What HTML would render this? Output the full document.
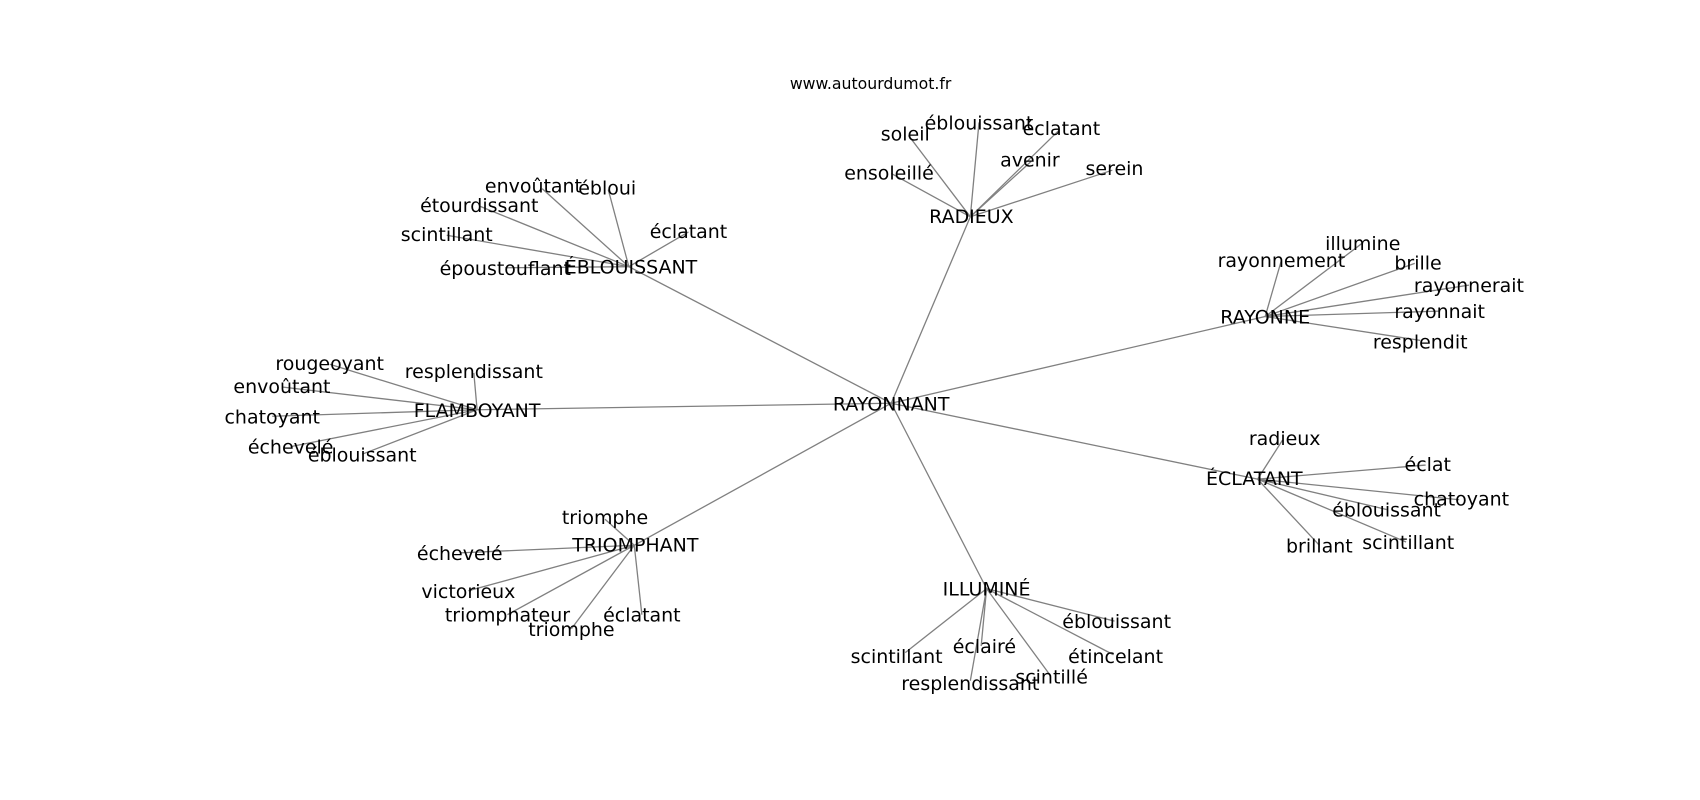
<!DOCTYPE html>
<html><head><meta charset="utf-8"><style>
html,body{margin:0;padding:0;background:#fff;}
svg{display:block;}
text{font-family:"DejaVu Sans","Liberation Sans",sans-serif;font-size:17.5px;fill:#000;text-anchor:middle;dominant-baseline:central;}
line{stroke:#808080;stroke-width:1.2;}
</style></head><body>
<svg width="1700" height="800" viewBox="0 0 1568 738" xmlns="http://www.w3.org/2000/svg">
<g>
<line x1="822" y1="372" x2="895" y2="200"/>
<line x1="822" y1="372" x2="1167" y2="292"/>
<line x1="822" y1="372" x2="1160" y2="442"/>
<line x1="822" y1="372" x2="910" y2="543"/>
<line x1="822" y1="372" x2="585" y2="503"/>
<line x1="822" y1="372" x2="440" y2="378"/>
<line x1="822" y1="372" x2="580" y2="246"/>
<line x1="895" y1="200" x2="838" y2="125"/>
<line x1="895" y1="200" x2="903" y2="113"/>
<line x1="895" y1="200" x2="977" y2="120"/>
<line x1="895" y1="200" x2="951" y2="149"/>
<line x1="895" y1="200" x2="1026" y2="157"/>
<line x1="895" y1="200" x2="822" y2="160"/>
<line x1="1167" y1="292" x2="1182" y2="240"/>
<line x1="1167" y1="292" x2="1257" y2="224"/>
<line x1="1167" y1="292" x2="1305" y2="243"/>
<line x1="1167" y1="292" x2="1355" y2="263"/>
<line x1="1167" y1="292" x2="1328" y2="287"/>
<line x1="1167" y1="292" x2="1310" y2="314"/>
<line x1="1160" y1="442" x2="1183" y2="406"/>
<line x1="1160" y1="442" x2="1315" y2="429"/>
<line x1="1160" y1="442" x2="1346" y2="461"/>
<line x1="1160" y1="442" x2="1279" y2="470"/>
<line x1="1160" y1="442" x2="1297" y2="500"/>
<line x1="1160" y1="442" x2="1217" y2="503"/>
<line x1="910" y1="543" x2="835" y2="602"/>
<line x1="910" y1="543" x2="905" y2="596"/>
<line x1="910" y1="543" x2="895" y2="628"/>
<line x1="910" y1="543" x2="968" y2="622"/>
<line x1="910" y1="543" x2="1027" y2="604"/>
<line x1="910" y1="543" x2="1028" y2="573"/>
<line x1="585" y1="503" x2="558" y2="479"/>
<line x1="585" y1="503" x2="424" y2="510"/>
<line x1="585" y1="503" x2="432" y2="545"/>
<line x1="585" y1="503" x2="468" y2="567"/>
<line x1="585" y1="503" x2="527" y2="580"/>
<line x1="585" y1="503" x2="592" y2="567"/>
<line x1="440" y1="378" x2="304" y2="336"/>
<line x1="440" y1="378" x2="260" y2="357"/>
<line x1="440" y1="378" x2="251" y2="384"/>
<line x1="440" y1="378" x2="268" y2="412"/>
<line x1="440" y1="378" x2="334" y2="419"/>
<line x1="440" y1="378" x2="437" y2="344"/>
<line x1="580" y1="246" x2="500" y2="174"/>
<line x1="580" y1="246" x2="561" y2="175"/>
<line x1="580" y1="246" x2="442" y2="190"/>
<line x1="580" y1="246" x2="412" y2="217"/>
<line x1="580" y1="246" x2="466" y2="247"/>
<line x1="580" y1="246" x2="635" y2="214"/>
</g>
<g transform="translate(0,1)">
<text x="803" y="76" style="font-size:14.5px">www.autourdumot.fr</text>
<text x="822" y="372">RAYONNANT</text>
<text x="896" y="199">RADIEUX</text>
<text x="835" y="123">soleil</text>
<text x="903" y="113">éblouissant</text>
<text x="979" y="118">éclatant</text>
<text x="950" y="147">avenir</text>
<text x="1028" y="155">serein</text>
<text x="820" y="159">ensoleillé</text>
<text x="1167" y="292">RAYONNE</text>
<text x="1182" y="240">rayonnement</text>
<text x="1257" y="224">illumine</text>
<text x="1308" y="242">brille</text>
<text x="1355" y="263">rayonnerait</text>
<text x="1328" y="287">rayonnait</text>
<text x="1310" y="315">resplendit</text>
<text x="1157" y="441">ÉCLATANT</text>
<text x="1185" y="404">radieux</text>
<text x="1317" y="428">éclat</text>
<text x="1348" y="460">chatoyant</text>
<text x="1279" y="470">éblouissant</text>
<text x="1299" y="500">scintillant</text>
<text x="1217" y="503">brillant</text>
<text x="910" y="543">ILLUMINÉ</text>
<text x="827" y="605">scintillant</text>
<text x="908" y="596">éclairé</text>
<text x="895" y="630">resplendissant</text>
<text x="970" y="624">scintillé</text>
<text x="1029" y="605">étincelant</text>
<text x="1030" y="573">éblouissant</text>
<text x="586" y="502">TRIOMPHANT</text>
<text x="558" y="477">triomphe</text>
<text x="424" y="510">échevelé</text>
<text x="432" y="545">victorieux</text>
<text x="468" y="567">triomphateur</text>
<text x="527" y="580">triomphe</text>
<text x="592" y="567">éclatant</text>
<text x="440" y="378">FLAMBOYANT</text>
<text x="304" y="335">rougeoyant</text>
<text x="260" y="356">envoûtant</text>
<text x="251" y="384">chatoyant</text>
<text x="268" y="412">échevelé</text>
<text x="334" y="419">éblouissant</text>
<text x="437" y="342">resplendissant</text>
<text x="582" y="246">ÉBLOUISSANT</text>
<text x="492" y="171">envoûtant</text>
<text x="560" y="173">ébloui</text>
<text x="442" y="189">étourdissant</text>
<text x="412" y="216">scintillant</text>
<text x="466" y="247">époustouflant</text>
<text x="635" y="213">éclatant</text>
</g>
</svg>
</body></html>
